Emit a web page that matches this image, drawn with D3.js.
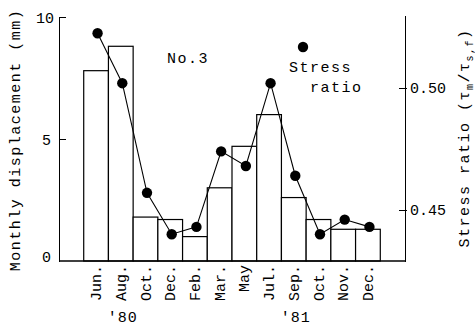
<!doctype html>
<html>
<head>
  <meta charset="utf-8">
  <title>No.3 monthly displacement and stress ratio</title>
  <script src="https://d3js.org/d3.v7.min.js"></script>
  <style>
    body { margin: 0; background: #fff; }
    text { font-family: "Liberation Mono", "DejaVu Sans Mono", monospace; fill: #000; }
    .axis path, .axis line { fill: none; stroke: #000; shape-rendering: crispEdges; }
    .axis path { stroke-width: 1.6px; }
    .bar { fill: #fff; stroke: #000; stroke-width: 1.2px; }
  </style>
</head>
<body>
<svg id="chart" width="475" height="328"></svg>
<script>
// months along the bottom, Jun. '80 to Dec. '81
var months = ["Jun.", "Aug.", "Oct.", "Dec.", "Feb.", "Mar.", "May", "Jul.", "Sep.", "Oct.", "Nov.", "Dec."];
// monthly displacement (mm), bars
var displacement = [7.8, 8.8, 1.8, 1.7, 1.0, 3.0, 4.7, 6.0, 2.6, 1.7, 1.3, 1.3];
// stress ratio tau_m / tau_s,f, dots
var stressRatio = [0.5225, 0.502, 0.457, 0.440, 0.443, 0.474, 0.468, 0.502, 0.464, 0.440, 0.446, 0.443];
var leftTicks = [0, 5, 10];
var rightTicks = [0.45, 0.50];
var years = [{label: "'80", at: 1}, {label: "'81", at: 8}];

var svg = d3.select("#chart");

// 14 slots: one empty on each side of the 12 months
var x = d3.scaleLinear().domain([0, 14]).range([59, 405]);
var y = d3.scaleLinear().domain([0, 10]).range([261, 17]);
var yR = d3.scaleLinear().domain([0.429, 0.53]).range([261, 15]);

// bars
svg.append("g")
  .selectAll("rect")
  .data(displacement)
  .enter()
  .append("rect")
    .attr("class", "bar")
    .attr("x", function(d, i) { return x(i + 1); })
    .attr("width", x(1) - x(0))
    .attr("y", function(d) { return y(d); })
    .attr("height", function(d) { return y(0) - y(d); });

// baseline
svg.append("line")
  .attr("x1", x(0)).attr("x2", x(14))
  .attr("y1", y(0)).attr("y2", y(0))
  .attr("stroke", "#000").attr("stroke-width", 1.6);

// left axis
var gl = svg.append("g")
  .attr("class", "axis")
  .attr("transform", "translate(" + x(0) + ",0)")
  .call(d3.axisLeft(y).tickValues(leftTicks).tickSize(-7).tickSizeOuter(0).tickPadding(5).tickFormat(d3.format("d")));
gl.selectAll(".tick text").style("font-size", "15px").attr("dy", "0.36em");
gl.selectAll(".tick").filter(function(d) { return d === 0; }).select("line").remove();
gl.selectAll(".tick").filter(function(d) { return d === 0; }).select("text").attr("dy", "0.05em").attr("x", -8);
gl.selectAll(".tick").filter(function(d) { return d === 5; }).select("text").attr("x", -8);

// right axis
var gr = svg.append("g")
  .attr("class", "axis")
  .attr("transform", "translate(" + x(14) + ",0)")
  .call(d3.axisRight(yR).tickValues(rightTicks).tickSize(-6).tickSizeOuter(0).tickPadding(5).tickFormat(d3.format(".2f")));
gr.selectAll(".tick text").style("font-size", "15px").attr("x", 5);
gr.selectAll(".tick line").attr("x1", 2);

// stress ratio line and dots
var line = d3.line()
  .x(function(d, i) { return x(i + 1.5) + 1.5; })
  .y(function(d) { return yR(d); });

svg.append("path")
  .datum(stressRatio)
  .attr("d", line)
  .attr("fill", "none")
  .attr("stroke", "#000")
  .attr("stroke-width", 1.1);

svg.append("g")
  .selectAll("circle")
  .data(stressRatio)
  .enter()
  .append("circle")
    .attr("cx", function(d, i) { return x(i + 1.5) + 1.5; })
    .attr("cy", function(d) { return yR(d); })
    .attr("r", 5.2)
    .attr("fill", "#000");

// month labels
svg.append("g")
  .selectAll("text")
  .data(months)
  .enter()
  .append("text")
    .attr("transform", function(d, i) { return "translate(" + (x(i + 1.5) + 5) + ",265) rotate(-90)"; })
    .attr("text-anchor", "end")
    .style("font-size", "15px")
    .text(function(d) { return d; });

// year labels
svg.append("g")
  .selectAll("text")
  .data(years)
  .enter()
  .append("text")
    .attr("x", function(d) { return x(d.at + 1.5) + 2; })
    .attr("y", 322)
    .attr("text-anchor", "middle")
    .style("font-size", "15px")
    .style("letter-spacing", "1px")
    .text(function(d) { return d.label; });

// annotations
svg.append("text").attr("x", 167).attr("y", 63).style("font-size", "15px").style("letter-spacing", "1.5px").text("No.3");
svg.append("circle").attr("cx", 303).attr("cy", 47).attr("r", 5.2).attr("fill", "#000");
svg.append("text").attr("x", 289).attr("y", 72).style("font-size", "15px").style("letter-spacing", "1.5px").text("Stress");
svg.append("text").attr("x", 310).attr("y", 92).style("font-size", "15px").style("letter-spacing", "1.5px").text("ratio");

// axis titles
svg.append("text")
  .attr("transform", "translate(20,140) rotate(-90)")
  .attr("text-anchor", "middle")
  .style("font-size", "15px")
  .style("letter-spacing", "1.5px")
  .text("Monthly displacement (mm)");

var rt = svg.append("text")
  .attr("transform", "translate(469,138) rotate(-90)")
  .attr("text-anchor", "middle")
  .style("font-size", "15px")
  .style("letter-spacing", "1.5px");
rt.append("tspan").text("Stress ratio (\u03c4");
rt.append("tspan").attr("dy", 4).style("font-size", "10px").text("m");
rt.append("tspan").attr("dy", -4).text("/\u03c4");
rt.append("tspan").attr("dy", 4).style("font-size", "10px").text("s,f");
rt.append("tspan").attr("dy", -4).text(")");
</script>
</body>
</html>
